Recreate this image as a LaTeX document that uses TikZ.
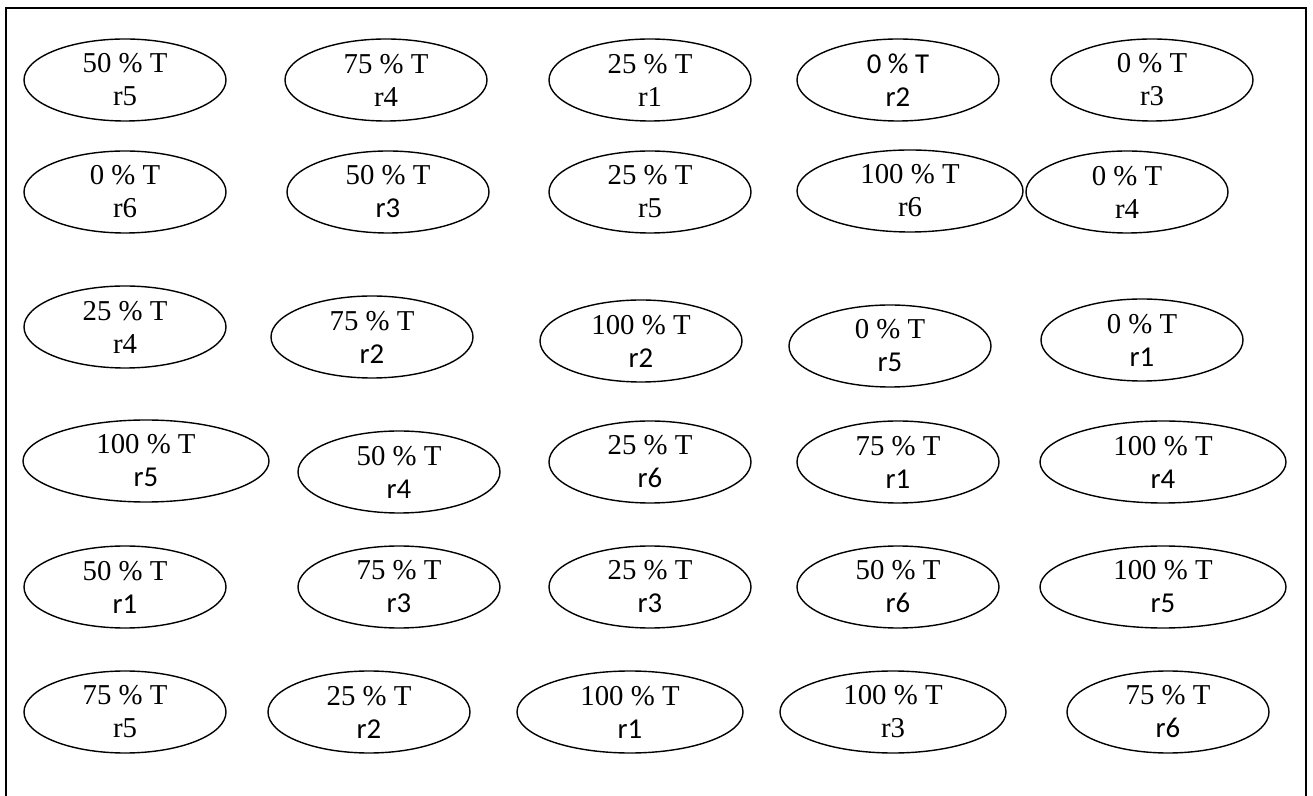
\documentclass[tikz,border=0pt]{standalone}
\usepackage{fontspec}
\setmainfont{Liberation Serif}
\newfontfamily\calfont{Carlito}
\usetikzlibrary{shapes.geometric}
\newcommand{\sn}[1]{{\calfont #1}}

\begin{document}
\begin{tikzpicture}[
      x=0.5pt, y=-0.5pt,
      trial/.style={ellipse, draw, line width=0.7pt, inner sep=0pt,
                    minimum width=101pt, minimum height=41pt, align=center,
                    font=\fontsize{14.4}{16.5}\selectfont},
      wide/.style={trial, minimum width=113pt},
      wider/.style={trial, minimum width=123pt}
    ]
    \useasboundingbox (0,0) rectangle (1313,796);
    \draw[line width=1pt] (6,796) -- (6,8) -- (1306,8) -- (1306,796);

    % row 1
    \node[trial] (a1) at (125,80) {50 \% T\\ r5};
    \node[trial] (a2) at (386,80) {75 \% T\\ r4};
    \node[trial] (a3) at (650,80) {25 \% T\\ r1};
    \node[trial] (a4) at (898,80) {\sn{0 \% T}\\ \sn{r2}};
    \node[trial] (a5) at (1152,80) {0 \% T\\ r3};

    % row 2
    \node[trial] (b1) at (125,192) {0 \% T\\ r6};
    \node[trial] (b2) at (388,192) {50 \% T\\ \sn{r3}};
    \node[trial] (b3) at (650,192) {25 \% T\\ r5};
    \node[wide]  (b4) at (910,191) {100 \% T\\ r6};
    \node[trial] (b5) at (1127,192) {0 \% T\\ r4};

    % row 3
    \node[trial] (c1) at (125,327) {25 \% T\\ r4};
    \node[trial] (c2) at (372,337) {75 \% T\\ \sn{r2}};
    \node[trial] (c3) at (641,341) {100 \% T\\ \sn{r2}};
    \node[trial] (c4) at (890,346) {0 \% T\\ \sn{r5}};
    \node[trial] (c5) at (1142,340) {0 \% T\\ \sn{r1}};

    % row 4
    \node[wider] (d1) at (146,461) {100 \% T\\ \sn{r5}};
    \node[trial] (d2) at (399,472) {50 \% T\\ \sn{r4}};
    \node[trial] (d3) at (650,462) {25 \% T\\ \sn{r6}};
    \node[trial] (d4) at (898,462) {75 \% T\\ \sn{r1}};
    \node[wider] (d5) at (1163,462) {100 \% T\\ \sn{r4}};

    % row 5
    \node[trial] (e1) at (125,587) {50 \% T\\ \sn{r1}};
    \node[trial] (e2) at (399,587) {75 \% T\\ \sn{r3}};
    \node[trial] (e3) at (650,587) {25 \% T\\ \sn{r3}};
    \node[trial] (e4) at (898,587) {50 \% T\\ \sn{r6}};
    \node[wider] (e5) at (1163,587) {100 \% T\\ \sn{r5}};

    % row 6
    \node[trial] (f1) at (125,712) {75 \% T\\ r5};
    \node[trial] (f2) at (369,712) {25 \% T\\ \sn{r2}};
    \node[wide]  (f3) at (630,712) {100 \% T\\ \sn{r1}};
    \node[wide]  (f4) at (893,712) {100 \% T\\ r3};
    \node[trial] (f5) at (1168,712) {75 \% T\\ \sn{r6}};
\end{tikzpicture}
\end{document}
